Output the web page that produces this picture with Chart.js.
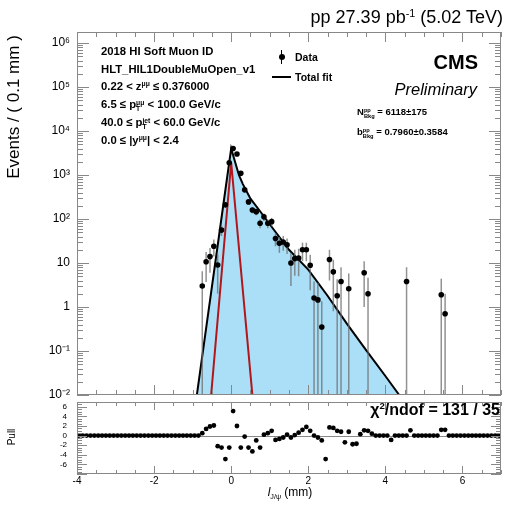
<!DOCTYPE html>
<html>
<head>
<meta charset="utf-8">
<script src="https://cdn.jsdelivr.net/npm/chart.js@4.4.0/dist/chart.umd.min.js"></script>
<style>
  body { margin: 0; background: #fff; font-family: "Liberation Sans", Arial, Helvetica, sans-serif; }
  #wrap { position: relative; width: 505px; height: 506px; overflow: hidden; }
  canvas { position: absolute; left: 0; }
  .t { position: absolute; white-space: nowrap; color: #000; line-height: 1; }
  .b { font-weight: bold; }
  .sup { font-size: 60%; position: relative; top: -0.6em; }
  .sub { font-size: 60%; position: relative; top: 0.35em; }
  .ss { display: inline-block; font-size: 60%; line-height: 0.95; vertical-align: -0.45em; text-align: left; }
  .ss span { display: block; }
  .rot { transform: translate(-50%, -50%) rotate(-90deg); }
</style>
</head>
<body>
<div id="wrap">
  <canvas id="main" width="505" height="400" style="top:0;width:505px;height:400px"></canvas>
  <canvas id="pull" width="505" height="108" style="top:398px;width:505px;height:108px"></canvas>

  <!-- header -->
  <div class="t" style="right:2px;top:8px;font-size:18px">pp 27.39 pb<span class="sup">-1</span> (5.02 TeV)</div>

  <!-- selection text -->
  <div class="t b" style="left:101px;top:46px;font-size:11.3px">2018 HI Soft Muon ID</div>
  <div class="t b" style="left:101px;top:64px;font-size:11.3px">HLT_HIL1DoubleMuOpen_v1</div>
  <div class="t b" style="left:101px;top:81px;font-size:11.3px">0.22 &lt; z<span class="sup">μμ</span> ≤ 0.376000</div>
  <div class="t b" style="left:101px;top:99px;font-size:11.3px">6.5 ≤ p<span class="ss"><span>μμ</span><span>T</span></span> &lt; 100.0 GeV/c</div>
  <div class="t b" style="left:101px;top:117px;font-size:11.3px">40.0 ≤ p<span class="ss"><span>jet</span><span>T</span></span> &lt; 60.0 GeV/c</div>
  <div class="t b" style="left:101px;top:135px;font-size:11.3px">0.0 ≤ |y<span class="sup">μμ</span>| &lt; 2.4</div>

  <!-- legend -->
  <div style="position:absolute;left:281px;top:50px;width:1px;height:14px;background:#000"></div>
  <div style="position:absolute;left:278.5px;top:54px;width:6px;height:6px;border-radius:50%;background:#000"></div>
  <div class="t b" style="left:295px;top:52px;font-size:10.5px">Data</div>
  <div style="position:absolute;left:272px;top:76px;width:19px;height:2px;background:#000"></div>
  <div class="t b" style="left:295px;top:72px;font-size:10.5px">Total fit</div>

  <!-- CMS label -->
  <div class="t b" style="right:27px;top:52px;font-size:20px">CMS</div>
  <div class="t" style="right:28px;top:81px;font-size:16.5px;font-style:italic">Preliminary</div>

  <!-- fit results -->
  <div class="t b" style="left:357px;top:107px;font-size:9.5px">N<span class="ss"><span>pp</span><span>Bkg</span></span> = 6118±175</div>
  <div class="t b" style="left:357px;top:127px;font-size:9.5px">b<span class="ss"><span>pp</span><span>Bkg</span></span> = 0.7960±0.3584</div>

  <!-- pull panel text -->
  <div class="t b" style="right:5px;top:402px;font-size:16px">χ<span class="sup">2</span>/ndof = 131 / 35</div>

  <!-- axis titles -->
  <div class="t rot" style="left:13px;top:107px;font-size:17px">Events / ( 0.1 mm )</div>
  <div class="t rot" style="left:12px;top:437px;font-size:10px">Pull</div>
  <div class="t" style="left:290px;top:492px;font-size:12px;transform:translate(-50%,-50%)"><i>l</i><span class="sub">J/ψ</span> (mm)</div>
</div>

<script>
Chart.defaults.font.family = '"Liberation Sans", Arial, Helvetica, sans-serif';
Chart.defaults.color = '#000';

// x range of both pads (mm)
const xMin = -4, xMax = 7;

// main pad y ticks
const yTickValues = [0.01, 0.1, 1, 10, 100, 1e3, 1e4, 1e5, 1e6];
const yTickLabels = ['10⁻²', '10⁻¹', '1', '10', '10²', '10³', '10⁴', '10⁵', '10⁶'];
const xTickValues = [-4, -2, 0, 2, 4, 6];
const pullTickValues = [-6, -4, -2, 0, 2, 4, 6];

// data points (bin centres, events / 0.1 mm, error)
const dataX = [-0.75, -0.65, -0.55, -0.45, -0.35, -0.25, -0.15, -0.05, 0.05, 0.15,
               0.25, 0.35, 0.45, 0.55, 0.65, 0.75, 0.85, 0.95, 1.05, 1.15,
               1.25, 1.35, 1.45, 1.55, 1.65, 1.75, 1.85, 1.95, 2.05, 2.15,
               2.25, 2.35, 2.55, 2.65, 2.75, 2.85, 3.05, 3.45, 3.55, 4.55,
               5.45, 5.55];
const dataY = [3.0, 10.7, 14, 24, 9, 56, 210, 1900, 4000, 3000,
               1100, 460, 245, 160, 147, 80, 112, 80, 87, 36,
               28, 30, 26, 10, 12.6, 13, 20, 20, 8.9, 1.6,
               1.45, 0.35, 12, 6.3, 1.8, 3.8, 2.6, 6, 2.0, 3.8,
               1.9, 0.7];
const dataErr = [3.5, 7, 8, 10, 7, 15, 30, 90, 130, 110,
                 70, 45, 32, 26, 25, 18, 22, 18, 19, 12,
                 11, 11, 10, 7, 7.5, 8, 9, 9, 6.5, 2.2,
                 2.1, 1.0, 8, 5.5, 2.5, 4.2, 3.2, 5, 2.6, 4.2,
                 2.5, 1.3];

// total fit curve
const fitX = [-0.89, -0.6, -0.3, -0.1, 0.0, 0.1, 0.2, 0.3, 0.5, 0.75, 1.0, 1.5, 2.0, 2.5, 3.0, 3.5, 4.0, 4.36];
const fitY = [0.01, 0.68, 52, 950, 4000, 2000, 1000, 630, 290, 150, 76, 20, 7.1, 1.8, 0.42, 0.105, 0.027, 0.01];

// prompt component (red)
const promptX = [-0.52, 0.0, 0.55];
const promptY = [0.01, 1900, 0.01];

// pull per 0.1 mm bin, starting at -4 mm
const binLo = -4, binWidth = 0.1;
const pullVal = [
  0, 0, 0, 0, 0, 0, 0, 0, 0, 0,
  0, 0, 0, 0, 0, 0, 0, 0, 0, 0,
  0, 0, 0, 0, 0, 0, 0, 0, 0, 0,
  0, 0.0, 0.5, 1.4, 1.9, 2.1, -2.2, -2.5, -4.9, -2.5,
  5.1, 2.0, -2.5, -0.2, -2.5, -3.3, -1.0, -2.5, 0.2, 0.5,
  1.0, -0.9, -0.7, -0.4, 0.2, -0.4, 0.1, 0.6, 1.2, 1.8,
  1.0, 0.0, -0.4, -1.0, -4.9, 1.7, 1.6, 1.0, 0.8, -1.4,
  0.8, -1.8, -1.7, 0.3, 1.1, 1.0, 0.4, 0, 0, 0,
  0, -0.9, 0, 0, 0, 0, 1.1, 0, 0, 0,
  0, 0, 0, 0, 1.2, 1.2, 0, 0, 0, 0,
  0, 0, 0, 0, 0, 0, 0, 0, 0, 0
];
const pullX = pullVal.map((_, k) => binLo + binWidth * (k + 0.5));

// error bars for the data points (dataset 2)
const errorBars = {
  id: 'errorBars',
  beforeDatasetDraw(chart, args) {
    if (args.index !== 2) return;
    const { ctx, chartArea: a, scales: { x, y } } = chart;
    ctx.save();
    ctx.beginPath();
    ctx.rect(a.left, a.top, a.width, a.height);
    ctx.clip();
    ctx.lineWidth = 1.5;
    dataX.forEach((xv, i) => {
      const px = x.getPixelForValue(xv);
      const lo = dataY[i] - dataErr[i];
      const yTop = y.getPixelForValue(dataY[i] + dataErr[i]);
      const yBot = lo > y.min ? y.getPixelForValue(lo) : a.bottom;
      ctx.strokeStyle = 'rgba(110,110,110,0.75)';
      ctx.beginPath();
      ctx.moveTo(px, yTop);
      ctx.lineTo(px, yBot);
      ctx.stroke();
      // horizontal half-bin bars
      const py = y.getPixelForValue(dataY[i]);
      ctx.strokeStyle = '#000';
      ctx.beginPath();
      ctx.moveTo(x.getPixelForValue(xv - binWidth / 2), py);
      ctx.lineTo(x.getPixelForValue(xv + binWidth / 2), py);
      ctx.stroke();
    });
    ctx.restore();
  }
};

// zero line of the pull pad
const zeroLine = {
  id: 'zeroLine',
  beforeDatasetsDraw(chart) {
    const { ctx, chartArea: a, scales: { y } } = chart;
    const py = Math.round(y.getPixelForValue(0)) + 0.5;
    ctx.save();
    ctx.strokeStyle = '#888';
    ctx.lineWidth = 1;
    ctx.beginPath();
    ctx.moveTo(a.left, py);
    ctx.lineTo(a.right, py);
    ctx.stroke();
    ctx.restore();
  }
};

// ROOT-like frame with ticks inside on all four sides
function rootFrame(opt) {
  return {
    id: 'rootFrame',
    afterDraw(chart) {
      const { ctx, chartArea: a, scales: { x, y } } = chart;
      ctx.save();
      ctx.strokeStyle = '#888';
      ctx.lineWidth = 1;
      ctx.strokeRect(a.left + 0.5, a.top + 0.5, a.width - 1, a.height - 1);
      const seg = (x0, y0, x1, y1) => { ctx.beginPath(); ctx.moveTo(x0, y0); ctx.lineTo(x1, y1); ctx.stroke(); };
      // x ticks
      for (let v = xMin; v <= xMax + 1e-9; v += 0.5) {
        const px = Math.round(x.getPixelForValue(v)) + 0.5;
        const len = Math.abs(v % 2) < 1e-9 ? opt.xMajor : opt.xMinor;
        seg(px, a.bottom, px, a.bottom - len);
        seg(px, a.top, px, a.top + len);
      }
      // y ticks
      if (opt.log) {
        for (let d = -2; d <= 6; d++) {
          for (let m = 1; m <= 9; m++) {
            const v = m * Math.pow(10, d);
            if (v > y.max) continue;
            const py = Math.round(y.getPixelForValue(v)) + 0.5;
            const len = m === 1 ? opt.yMajor : opt.yMinor;
            seg(a.left, py, a.left + len, py);
            seg(a.right, py, a.right - len, py);
          }
        }
      } else {
        for (let v = Math.ceil(y.min); v <= y.max + 1e-9; v += 0.5) {
          const py = Math.round(y.getPixelForValue(v)) + 0.5;
          const len = Math.abs(v % 2) < 1e-9 ? opt.yMajor : opt.yMinor;
          seg(a.left, py, a.left + len, py);
          seg(a.right, py, a.right - len, py);
        }
      }
      ctx.restore();
    }
  };
}

// keep the plot frames where the reference has them
function fixWidth(s) { s.width = 77; s.paddingTop = 0; s.paddingBottom = 0; }

// main pad
new Chart('main', {
  type: 'scatter',
  data: {
    datasets: [
      {
        type: 'line', label: 'Total fit', order: 3,
        data: fitX.map((xv, i) => ({ x: xv, y: fitY[i] })),
        borderColor: '#000', borderWidth: 2, pointRadius: 0,
        fill: 'start', backgroundColor: '#aadff7', tension: 0
      },
      {
        type: 'line', label: 'Prompt', order: 2,
        data: promptX.map((xv, i) => ({ x: xv, y: promptY[i] })),
        borderColor: '#b0161c', borderWidth: 2, pointRadius: 0, fill: false, tension: 0
      },
      {
        label: 'Data', order: 1,
        data: dataX.map((xv, i) => ({ x: xv, y: dataY[i] })),
        pointRadius: 2.8, backgroundColor: '#000', borderWidth: 0
      }
    ]
  },
  options: {
    responsive: false, animation: false, devicePixelRatio: 1,
    layout: { padding: { top: 32, right: 2, bottom: 5, left: 0 } },
    plugins: { legend: { display: false }, tooltip: { enabled: false } },
    scales: {
      x: { type: 'linear', min: xMin, max: xMax, display: false },
      y: {
        type: 'logarithmic', min: 0.01, max: 1.78e6,
        afterFit: fixWidth,
        afterBuildTicks(s) { s.ticks = yTickValues.map(v => ({ value: v })); },
        ticks: {
          callback: v => yTickLabels[yTickValues.indexOf(v)],
          font: { size: 12 }, color: '#000', padding: 7, autoSkip: false
        },
        grid: { display: false, drawTicks: false },
        border: { display: false }
      }
    }
  },
  plugins: [errorBars, rootFrame({ log: true, xMajor: 10, xMinor: 5, yMajor: 12, yMinor: 6 })]
});

// pull pad
new Chart('pull', {
  type: 'scatter',
  data: {
    datasets: [{
      label: 'Pull',
      data: pullX.map((xv, k) => ({ x: xv, y: pullVal[k] })),
      pointRadius: 2.4, backgroundColor: '#000', borderWidth: 0
    }]
  },
  options: {
    responsive: false, animation: false, devicePixelRatio: 1,
    layout: { padding: { top: 4, right: 2, bottom: 0, left: 0 } },
    plugins: { legend: { display: false }, tooltip: { enabled: false } },
    scales: {
      x: {
        type: 'linear', min: xMin, max: xMax,
        afterFit(s) { s.height = 32; s.paddingLeft = 0; s.paddingRight = 0; },
        afterBuildTicks(s) { s.ticks = xTickValues.map(v => ({ value: v })); },
        ticks: { font: { size: 10 }, color: '#000', padding: 1, maxRotation: 0, autoSkip: false },
        grid: { display: false, drawTicks: false },
        border: { display: false }
      },
      y: {
        type: 'linear', min: -8, max: 7,
        afterFit: fixWidth,
        afterBuildTicks(s) { s.ticks = pullTickValues.map(v => ({ value: v })); },
        ticks: { font: { size: 8 }, color: '#000', padding: 10, autoSkip: false },
        grid: { display: false, drawTicks: false },
        border: { display: false }
      }
    }
  },
  plugins: [zeroLine, rootFrame({ log: false, xMajor: 8, xMinor: 4, yMajor: 10, yMinor: 5 })]
});
</script>
</body>
</html>
